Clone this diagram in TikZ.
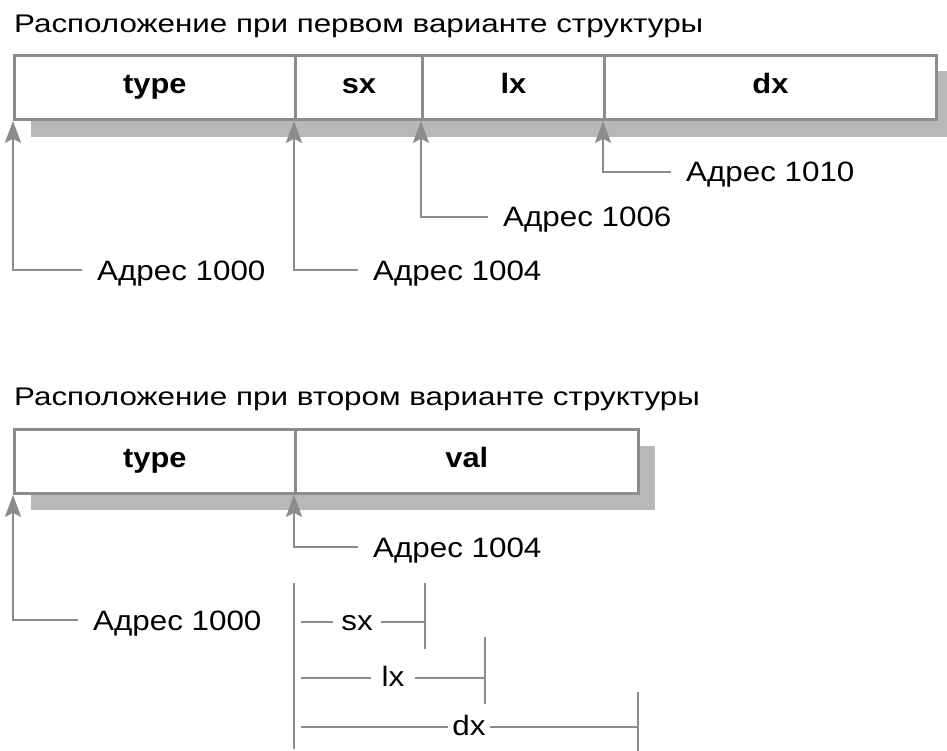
\documentclass[tikz,border=0pt]{standalone}
\usepackage{fontspec}
\setmainfont{Liberation Sans}
\newfontfamily\ttlfont[FakeStretch=1.23]{Liberation Sans}
\newfontfamily\labfont[FakeStretch=1.12]{Liberation Sans}
\newfontfamily\fldfont[FakeStretch=1.1]{Liberation Sans}
\usetikzlibrary{arrows.meta}
\definecolor{ln}{HTML}{8C8C8C}
\definecolor{sh}{HTML}{B9B7BA}
\begin{document}
\begin{tikzpicture}[x=1pt,y=-1pt,
  fld/.style={draw=ln, line width=2.8pt, fill=white, minimum height=64pt, inner sep=0pt, anchor=north west, text height=13pt, text depth=0pt, font=\fldfont\fontsize{28}{32}\selectfont\bfseries},
  shad/.style={fill=sh, draw=none},
  ttl/.style={anchor=base west, inner sep=0pt, font=\ttlfont\fontsize{25.5}{30}\selectfont},
  lab/.style={anchor=west, inner sep=0pt, text height=20pt, text depth=0pt, font=\labfont\fontsize{28}{32}\selectfont},
  sub/.style={inner sep=0pt, fill=white, text height=16pt, text depth=0pt, font=\labfont\fontsize{28}{32}\selectfont},
  arr/.style={draw=ln, line width=2.8pt, -{Stealth[length=22pt,width=16pt,inset=4pt]}},
  ln/.style={draw=ln, line width=2.8pt}]
\useasboundingbox (0,0) rectangle (947,751);
% ---------- first structure
\node[ttl] (t1) at (14,33) {Расположение при первом варианте структуры};
\fill[shad] (31,71) rectangle (953,137);
\node[fld, minimum width=281pt] (a) at (13,54) {type};
\node[fld, minimum width=127pt] (b) at (294,54) {sx};
\node[fld, minimum width=182pt] (c) at (421,54) {lx};
\node[fld, minimum width=332pt] (d) at (603,54) {dx};
\node[lab] (la) at (97,270) {Адрес 1000};
\node[lab] (lb) at (373,270) {Адрес 1004};
\node[lab] (lc) at (503,217) {Адрес 1006};
\node[lab] (ld) at (686,172) {Адрес 1010};
\draw[arr] ([xshift=-15pt]la.west) -| (a.south west);
\draw[arr] ([xshift=-15pt]lb.west) -| (b.south west);
\draw[arr] ([xshift=-15pt]lc.west) -| (c.south west);
\draw[arr] ([xshift=-15pt]ld.west) -| (d.south west);
% ---------- second structure
\node[ttl] (t2) at (14,405) {Расположение при втором варианте структуры};
\fill[shad] (31,446) rectangle (655,510);
\node[fld, minimum width=281pt] (e) at (13,428) {type};
\node[fld, minimum width=343pt] (f) at (294,428) {val};
\node[lab] (le) at (93,620) {Адрес 1000};
\node[lab] (lf) at (373,547) {Адрес 1004};
\draw[arr] ([xshift=-15pt]le.west) -| (e.south west);
\draw[arr] ([xshift=-15pt]lf.west) -| (f.south west);
% sizes
\coordinate (v1) at (294,583);
\coordinate (v2) at (294,749);
\draw[ln] (v1) -- (v2);
\coordinate (s1) at (425,583);
\coordinate (s2) at (425,649);
\draw[ln] (s1) -- (s2);
\coordinate (l1) at (485,637);
\coordinate (l2) at (485,704);
\draw[ln] (l1) -- (l2);
\coordinate (d1) at (638,692);
\coordinate (d2) at (638,751);
\draw[ln] (d1) -- (d2);
\coordinate (sa) at (301,622);
\coordinate (la2) at (301,678);
\coordinate (da) at (301,727);
\draw[ln] (sa) -- (s1 |- sa);
\draw[ln] (la2) -- (l1 |- la2);
\draw[ln] (da) -- (d1 |- da);
\node[sub, inner xsep=8pt] (tsx) at (357,622) {sx};
\node[sub, inner xsep=11pt] (tlx) at (393,678) {lx};
\node[sub, inner xsep=4pt] (tdx) at (469,727) {dx};
\end{tikzpicture}
\end{document}
